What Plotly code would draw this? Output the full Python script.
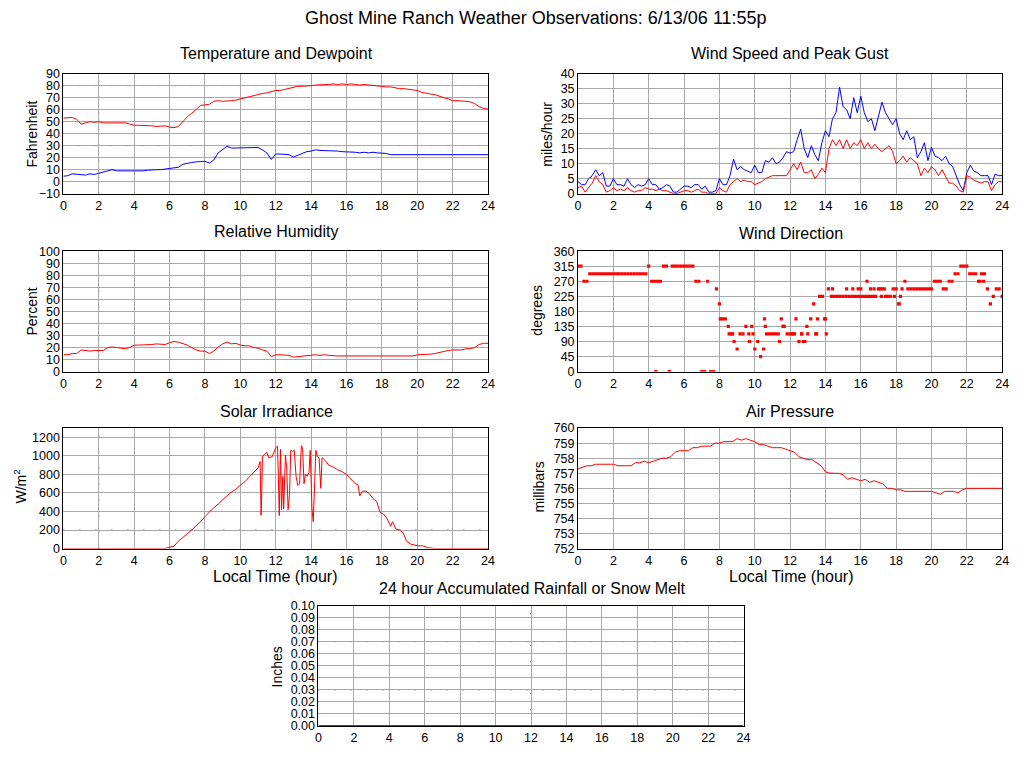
import plotly.graph_objects as go

# ============================================================
# DATA
# ============================================================

# quarter-hour samples 0..24
hours_q = [i * 0.25 for i in range(97)]

temp_f = [
    53, 53.5, 53.5, 52,  48, 49, 50, 49.5,  50, 49, 49, 49,  49, 49.5, 49, 48,
    47, 47, 47, 47,  46.5, 46, 46, 46.5,  45.5, 45, 46, 50,  54, 57, 60, 63.5,
    64, 64.5, 67, 67.5,  67, 67, 67.5, 68,  69, 69.5, 70.5, 72,  73, 73.5, 74, 75,
    76, 76, 77, 78,  78.5, 79.5, 79.5, 79.5,  80, 80.5, 81, 81,  81, 81.5, 81, 81.5,
    81, 81.5, 81, 80.5,  81, 80.5, 80, 79.5,  79.5, 79, 79, 78,  77.5, 77.5, 77, 76,
    76, 74.5, 73.5, 73,  72.5, 71, 70, 69,  67.5, 67.5, 67.5, 67,  66.5, 65, 62.5, 61,
    60.5,
]
dewpoint_f = [
    4.5, 5, 6.5, 6,  6, 5.5, 6.5, 6,  7, 8, 9.5, 10,  9, 9, 9, 8.5,
    9, 8.5, 9, 9.5,  10, 10, 10, 10.5,  11, 11.5, 12, 14.5,  15.5, 16, 16.5, 17,
    17, 15.5, 18, 24,  27, 29.5, 28, 28,  28.5, 28, 28, 28.5,  28.5, 26.5, 24, 18.5,
    23, 23, 23, 22.5,  20.5, 22, 24, 25,  25.5, 26.5, 26, 26,  26, 25.5, 25.5, 25,
    25, 25, 24.5, 24,  24.5, 24, 24.5, 24,  24, 23.5, 22.5, 22.5,  22.5, 22, 22, 22,
    22.5, 22, 22, 22,  22, 22, 22, 22,  22, 22, 22, 22.5,  22.5, 22.5, 22.5, 22.5,
    22.5,
]
humidity_pct = [
    14, 14, 15, 15,  18, 17.5, 17, 17.5,  17.5, 17.5, 20, 20.5,  20, 19.5, 19, 20,
    22, 22, 22, 22,  22.5, 23, 23, 22.5,  24, 25, 24.5, 23.5,  22, 20, 18, 17,
    17, 15, 17, 20.5,  23, 24.5, 23, 23.5,  22, 21.5, 21.5, 20,  19.5, 18, 17, 12.5,
    14, 14, 14, 13.5,  12, 12.5, 13, 13.5,  13.5, 14, 13.5, 14,  13.5, 13, 13, 13,
    13, 13, 12.5, 13,  12.5, 13, 13, 13,  13, 13, 12.5, 13,  13, 13, 13, 13,
    14, 14, 14, 14.5,  15, 16, 17, 17.5,  18, 18, 18, 19,  19, 20, 22.5, 23.5,
    23.5,
]
pressure_mb = [
    757.3, 757.4, 757.5, 757.5,  757.6, 757.6, 757.6, 757.6,  757.6, 757.5, 757.5, 757.5,
    757.5, 757.7, 757.7, 757.8,  757.7, 757.8, 757.9, 758.0,  758.0, 758.1, 758.4, 758.5,
    758.5, 758.5, 758.7, 758.7,  758.8, 758.8, 758.8, 759.0,  759.0, 759.1, 759.1, 759.1,
    759.3, 759.2, 759.3, 759.2,  759.1, 758.9, 758.9, 758.8,  758.7, 758.7, 758.7, 758.6,
    758.5, 758.4, 758.1, 758.0,  757.9, 757.9, 757.7, 757.5,  757.1, 757.0, 757.0, 757.0,
    756.9, 756.6, 756.7, 756.6,  756.5, 756.6, 756.4, 756.5,  756.4, 756.3, 756.0, 756.0,
    755.9, 755.9, 755.8, 755.8,  755.8, 755.8, 755.8, 755.8,  755.8, 755.7, 755.6, 755.8,
    755.8, 755.8, 755.7, 755.9,  756.0, 756.0, 756.0, 756.0,  756.0, 756.0, 756.0, 756.0,
    756.0,
]

# 12-minute samples 0..24
hours_w = [i * 0.2 for i in range(121)]

gust_mph = [
    4, 3, 3, 5, 6,  8, 6, 7, 2.5, 2.5,  5, 3, 3, 2.5, 5,  3, 2, 3, 2.5, 3,
    5, 3, 3, 1.5, 2,  3, 2.5, 0.5, 0.5, 1.5,  2.5, 2.5, 2, 3, 3,  1.5, 2.5, 0.5, 0.5, 1,
    5, 3, 3, 6, 11.5,  8, 9, 8, 7.5, 7,  9.5, 7, 7, 11, 10.5,  12, 10, 10.5, 12, 14,
    13.5, 14, 18, 21.5, 15,  12, 16, 13, 11, 17,  21, 19, 25, 27, 35.5,  29, 28, 25, 32, 27,
    32.5, 27, 24, 25, 21,  26, 30.5, 27, 25, 23,  25, 20, 18, 21, 18,  19, 12, 14, 17, 11,
    15.5, 12.5, 12, 11, 12.5,  10, 9, 6, 3, 1,  7, 9.5, 7.5, 7, 6,  6, 6, 3, 6.5, 6,
    6,
]
speed_mph = [
    2, 2.5, 0.5, 2, 3.5,  6, 4, 3, 0.5, 1,  2, 1, 1.5, 1, 2,  1, 0.5, 1, 1, 2,
    1.5, 1.5, 1, 1.5, 1,  1, 0.5, 0, 0, 0.5,  1, 1, 0.5, 1, 1.5,  0.5, 0.5, 0, 0, 0,
    2, 1, 0.5, 3, 4,  5, 4, 4.5, 4, 4,  3, 3.5, 4, 5, 5.5,  6, 6, 6, 6, 6,
    8, 10, 8, 10.5, 7,  7, 8, 5, 6.5, 8.5,  7, 15, 18, 16, 18,  15, 18, 15, 17, 16,
    18, 15, 17, 15, 16.5,  15, 14, 15, 16, 14,  10, 11, 12.5, 10.5, 12,  11, 10, 6, 8.5, 7,
    9, 8, 6, 8, 6,  3.5, 3.5, 2.5, 1, 0.5,  6, 5.5, 4.5, 4, 3.5,  4, 4, 1, 3, 4,
    4,
]

# 10-minute samples 0..24
hours_d = [i / 6 for i in range(145)]
direction_deg = [
    315, 315, 270, 270, 292.5, 292.5,
    292.5, 292.5, 292.5, 292.5, 292.5, 292.5,
    292.5, 292.5, 292.5, 292.5, 292.5, 292.5,
    292.5, 292.5, 292.5, 292.5, 292.5, 292.5,
    315, 270, 270, 270, 270, 315,
    315, 0, 315, 315, 315, 315,
    315, 315, 315, 315, 270, 270,
    0, 0, 270, 0, 0, 247.5,
    202.5, 157.5, 157.5, 135, 112.5, 90,
    67.5, 112.5, 112.5, 135, 112.5, 135,
    67.5, 90, 45, 67.5, 112.5, 112.5,
    112.5, 112.5, 112.5, 157.5, 135, 112.5,
    112.5, 112.5, 157.5, 90, 112.5, 90,
    112.5, 157.5, 202.5, 112.5, 225, 225,
    157.5, 247.5, 225, 225, 225, 225,
    225, 225, 225, 225, 225, 225,
    225, 225, 225, 225, 225, 225,
    247.5, 225, 247.5, 225, 225, 247.5,
    247.5, 202.5, 247.5, 270, 247.5, 247.5,
    247.5, 247.5, 247.5, 247.5, 247.5, 247.5,
    247.5, 270, 270, 270, 247.5, 247.5,
    270, 270, 292.5, 292.5, 315, 315,
    315, 292.5, 292.5, 292.5, 270, 292.5,
    292.5, 247.5, 202.5, 225, 247.5, 247.5,
    225,
]
# extra single readings between the 10-minute samples
direction_extra_hours = [
    4.4, 8.05, 8.55, 8.75, 9.7, 9.9, 10.55, 10.6, 11.4, 11.6, 12.1, 12.25,
    12.65, 12.75, 12.95, 13.45, 13.55, 13.95, 14.05, 14.4, 15.2, 15.55,
    15.85, 16.0, 16.35, 16.55, 16.75, 17.1, 17.2, 17.4, 17.9, 18.15, 18.25,
    22.75, 22.95,
]
direction_extra_deg = [
    0, 157.5, 112.5, 112.5, 90, 112.5, 157.5, 135, 90, 135, 112.5, 112.5,
    112.5, 90, 135, 112.5, 157.5, 157.5, 112.5, 247.5, 247.5, 247.5,
    247.5, 247.5, 270, 247.5, 247.5, 247.5, 247.5, 225, 225, 202.5, 225,
    270, 270,
]

solar_hours = [
    0, 5.7, 6.0, 6.25, 6.5, 6.75, 7.0, 7.25, 7.5, 7.75,
    8.0, 8.25, 8.5, 8.75, 9.0, 9.25, 9.5, 9.75, 10.0, 10.25,
    10.5, 10.75, 11.0, 11.12, 11.17, 11.2, 11.25, 11.4, 11.5, 11.6,
    11.8, 12.0, 12.1, 12.15, 12.2, 12.27, 12.33, 12.4, 12.45, 12.55,
    12.62, 12.7, 12.78, 12.85, 12.95, 13.05, 13.15, 13.25, 13.35, 13.45,
    13.52, 13.6, 13.68, 13.78, 13.88, 13.95, 14.05, 14.12, 14.2, 14.27,
    14.35, 14.45, 14.55, 14.62, 14.75, 15.0, 15.25, 15.5, 15.75, 16.0,
    16.25, 16.5, 16.65, 16.75, 16.9, 17.1, 17.3, 17.5, 17.7, 17.9,
    18.1, 18.3, 18.5, 18.6, 18.8, 19.0, 19.2, 19.4, 19.6, 20.0,
    20.3, 20.6, 21.0, 24,
]
solar_wm2 = [
    0, 0, 15, 25, 80, 125, 160, 200, 240, 290,
    345, 395, 440, 480, 530, 570, 610, 640, 684, 720,
    770, 820, 870, 940, 360, 520, 990, 1027, 1038, 981,
    991, 1088, 1106, 790, 355, 1070, 420, 780, 430, 1010,
    870, 420, 580, 1060, 1050, 1060, 780, 680, 700, 1110,
    1090, 700, 800, 780, 820, 1060, 430, 290, 700, 1060,
    990, 980, 650, 980, 960, 900, 880, 850, 830, 800,
    750, 700, 690, 570, 620, 620, 590, 540, 510, 390,
    370, 320, 240, 290, 210, 200, 170, 80, 50, 30,
    30, 10, 0, 0,
]

rain_hours = [0, 24]
rain_in = [0, 0]

assert len(solar_hours) == len(solar_wm2)
assert len(direction_extra_hours) == len(direction_extra_deg)

# ============================================================
# FIGURE
# ============================================================

W, H = 1024, 768
FONT = "Liberation Sans, Arial, Helvetica, sans-serif"
RED = "#ff0000"
BLUE = "#0000ff"

# the captured page comes out slightly shrunk and offset; undo it so that
# the target pixel positions below land where the reference has them
X_OFF, X_SCALE = 3.1, 0.990
Y_OFF, Y_SCALE = 6.3, 0.982


def px_x(x):
    return ((x - X_OFF) / X_SCALE) / W


def px_y(y):
    return 1 - ((y - Y_OFF) / Y_SCALE) / H


left_dom = [px_x(63.5), px_x(488)]
right_dom = [px_x(578), px_x(1002)]
rain_dom = [px_x(318.5), px_x(743.5)]
rows = {
    1: [px_y(193), px_y(73)],
    2: [px_y(371), px_y(250.5)],
    3: [px_y(548), px_y(427.5)],
    4: [px_y(725.5), px_y(605)],
}

fig = go.Figure()

line = dict(width=1)
fig.add_trace(go.Scatter(x=hours_q, y=temp_f, mode="lines", line=dict(color=RED, **line), xaxis="x", yaxis="y"))
fig.add_trace(go.Scatter(x=hours_q, y=dewpoint_f, mode="lines", line=dict(color=BLUE, **line), xaxis="x", yaxis="y"))
fig.add_trace(go.Scatter(x=hours_w, y=gust_mph, mode="lines", line=dict(color=BLUE, **line), xaxis="x2", yaxis="y2", cliponaxis=False))
fig.add_trace(go.Scatter(x=hours_w, y=speed_mph, mode="lines", line=dict(color=RED, **line), xaxis="x2", yaxis="y2", cliponaxis=False))
fig.add_trace(go.Scatter(x=hours_q, y=humidity_pct, mode="lines", line=dict(color=RED, **line), xaxis="x3", yaxis="y3"))
fig.add_trace(go.Scatter(
    x=hours_d + direction_extra_hours, y=direction_deg + direction_extra_deg,
    mode="markers", marker=dict(color=RED, symbol="square", size=3.2, line=dict(width=0)),
    xaxis="x4", yaxis="y4"))
fig.add_trace(go.Scatter(x=solar_hours, y=solar_wm2, mode="lines", line=dict(color=RED, **line), xaxis="x5", yaxis="y5", cliponaxis=False))
fig.add_trace(go.Scatter(x=hours_q, y=pressure_mb, mode="lines", line=dict(color=RED, **line), xaxis="x6", yaxis="y6"))
fig.add_trace(go.Scatter(x=rain_hours, y=rain_in, mode="lines", line=dict(color=RED, width=2), xaxis="x7", yaxis="y7", cliponaxis=False))

common = dict(
    showline=True, linecolor="black", linewidth=1, mirror=True,
    showgrid=True, gridcolor="#a8a8a8", gridwidth=1, zeroline=False,
    ticks="", tickfont=dict(family=FONT, size=12.5, color="black"),
    layer="below traces", fixedrange=True,
)


def xax(dom, anchor):
    return dict(domain=dom, anchor=anchor, range=[0, 24], tick0=0, dtick=2, **common)


def yax(dom, anchor, rng, dtick, fmt=None):
    d = dict(domain=dom, anchor=anchor, range=rng, tick0=rng[0], dtick=dtick, **common)
    if fmt:
        d["tickformat"] = fmt
    return d


fig.update_layout(
    xaxis=xax(left_dom, "y"), yaxis=yax(rows[1], "x", [-10, 90], 10),
    xaxis2=xax(right_dom, "y2"), yaxis2=yax(rows[1], "x2", [0, 40], 5),
    xaxis3=xax(left_dom, "y3"), yaxis3=yax(rows[2], "x3", [0, 100], 10),
    xaxis4=xax(right_dom, "y4"), yaxis4=yax(rows[2], "x4", [0, 360], 45),
    xaxis5=xax(left_dom, "y5"), yaxis5=yax(rows[3], "x5", [0, 1300], 200),
    xaxis6=xax(right_dom, "y6"), yaxis6=yax(rows[3], "x6", [752, 760], 1),
    xaxis7=xax(rain_dom, "y7"), yaxis7=yax(rows[4], "x7", [0, 0.1], 0.01, ".2f"),
)
fig.layout.yaxis5.tickvals = [0, 200, 400, 600, 800, 1000, 1200]

# text: titles and axis labels placed at pixel positions
texts = [
    ("Ghost Mine Ranch Weather Observations: 6/13/06 11:55p", 536, 17, 18, 0),
    ("Temperature and Dewpoint", 277, 53, 16, 0),
    ("Wind Speed and Peak Gust", 790, 53, 16, 0),
    ("Relative Humidity", 276, 231, 16, 0),
    ("Wind Direction", 791, 233, 16, 0),
    ("Solar Irradiance", 277, 411, 16, 0),
    ("Air Pressure", 790, 411, 16, 0),
    ("24 hour Accumulated Rainfall or Snow Melt", 532, 588, 16, 0),
    ("Local Time (hour)", 276, 576, 16, 0),
    ("Local Time (hour)", 791, 576, 16, 0),
    ("Fahrenheit", 32, 133, 14, -90),
    ("miles/hour", 547, 134, 14, -90),
    ("Percent", 32, 311, 14, -90),
    ("degrees", 537, 310, 14, -90),
    ("W/m<sup>2</sup>", 20, 486, 14, -90),
    ("millibars", 539, 487, 14, -90),
    ("Inches", 277, 666, 14, -90),
]
annotations = []
for txt, x, y, size, ang in texts:
    annotations.append(dict(
        text=txt, x=px_x(x), y=px_y(y), xref="paper", yref="paper",
        xanchor="center", yanchor="middle", showarrow=False, textangle=ang,
        font=dict(family=FONT, size=size, color="black"),
    ))

# sparse black dotted reference lines drawn over some grid lines
dotted = [
    ("x", "y", "v", 2), ("x", "y", "h", 80), ("x", "y", "h", 30),
    ("x3", "y3", "v", 2),
    ("x5", "y5", "v", 2), ("x5", "y5", "h", 200),
    ("x2", "y2", "v", 20), ("x4", "y4", "v", 20), ("x6", "y6", "v", 20),
    ("x7", "y7", "v", 12), ("x7", "y7", "h", 0.07), ("x7", "y7", "h", 0.03),
]
shapes = []
for xr, yr, kind, val in dotted:
    for color, dash in (("white", "solid"), ("black", "1px,15px")):
        if kind == "v":
            s = dict(type="line", xref=xr, yref=yr + " domain", x0=val, x1=val, y0=0, y1=1)
        else:
            s = dict(type="line", xref=xr + " domain", yref=yr, x0=0, x1=1, y0=val, y1=val)
        s.update(line=dict(color=color, width=1, dash=dash), layer="below")
        shapes.append(s)

fig.update_layout(
    autosize=True,
    margin=dict(l=0, r=0, t=0, b=0),
    paper_bgcolor="white", plot_bgcolor="white",
    showlegend=False,
    font=dict(family=FONT, color="black"),
    annotations=annotations,
    shapes=shapes,
)

# fill the browser window exactly (no body margin, no scrollbars)
fit_page = (
    "var s=document.documentElement.style, b=document.body.style;"
    "s.height='100%'; s.overflow='hidden'; b.height='100%'; b.margin='0'; b.overflow='hidden';"
    "var gd=document.getElementById('{plot_id}');"
    "gd.style.width='100vw'; gd.style.height='100vh';"
    "Plotly.Plots.resize(gd);"
)
fig.write_html(
    "out.html",
    default_width="100%", default_height="100%",
    config={"displayModeBar": False, "responsive": True},
    post_script=fit_page,
)
